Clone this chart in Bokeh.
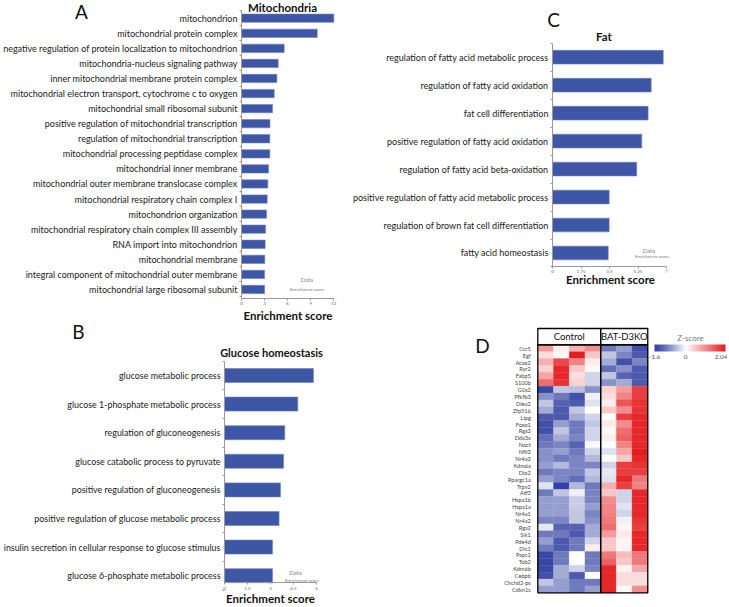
from bokeh.plotting import figure
from bokeh.models import (Range1d, FixedTicker, CustomJSTickFormatter, Label, Legend,
                          LegendItem, LinearColorMapper, ColorBar, ColumnDataSource)
from bokeh.layouts import row, column
from bokeh.transform import transform
from bokeh.embed import file_html
from bokeh.resources import INLINE

FONT = "Lato"
BAR = "#3E56A6"
BAR_LINE = "#6B80C2"

# ---------------- data ----------------
mito_terms = [
    "mitochondrion",
    "mitochondrial protein complex",
    "negative regulation of protein localization to mitochondrion",
    "mitochondria-nucleus signaling pathway",
    "inner mitochondrial membrane protein complex",
    "mitochondrial electron transport, cytochrome c to oxygen",
    "mitochondrial small ribosomal subunit",
    "positive regulation of mitochondrial transcription",
    "regulation of mitochondrial transcription",
    "mitochondrial processing peptidase complex",
    "mitochondrial inner membrane",
    "mitochondrial outer membrane translocase complex",
    "mitochondrial respiratory chain complex I",
    "mitochondrion organization",
    "mitochondrial respiratory chain complex III assembly",
    "RNA import into mitochondrion",
    "mitochondrial membrane",
    "integral component of mitochondrial outer membrane",
    "mitochondrial large ribosomal subunit",
]
mito_scores = [12.0, 9.85, 5.55, 4.77, 4.6, 4.25, 4.03, 3.7, 3.68, 3.68, 3.51, 3.42,
               3.34, 3.25, 3.12, 3.08, 3.03, 3.0, 3.0]
mito_ticks = [0, 3, 6, 9, 12]

gluc_terms = [
    "glucose metabolic process",
    "glucose 1-phosphate metabolic process",
    "regulation of gluconeogenesis",
    "glucose catabolic process to pyruvate",
    "positive regulation of gluconeogenesis",
    "positive regulation of glucose metabolic process",
    "insulin secretion in cellular response to glucose stimulus",
    "glucose 6-phosphate metabolic process",
]
gluc_scores = [5.8, 4.78, 3.93, 3.85, 3.65, 3.56, 3.13, 3.13]
gluc_ticks = [0, 1.5, 3, 4.5, 6]

fat_terms = [
    "regulation of fatty acid metabolic process",
    "regulation of fatty acid oxidation",
    "fat cell differentiation",
    "positive regulation of fatty acid oxidation",
    "regulation of fatty acid beta-oxidation",
    "positive regulation of fatty acid metabolic process",
    "regulation of brown fat cell differentiation",
    "fatty acid homeostasis",
]
fat_scores = [6.8, 6.06, 5.87, 5.48, 5.17, 3.48, 3.48, 3.42]
fat_ticks = [0, 1.75, 3.5, 5.25, 7]

genes = ["Ccr5", "Egf", "Acox2", "Ryr2", "Fabp5", "S100b", "G0s2", "Pfkfb3", "Dleu2",
         "Zfp516", "Lipg", "Foxo1", "Rgs3", "Ddx3x", "Noct", "Nfil3", "Nr4a3", "Kdm6a",
         "Dio2", "Ppargc1a", "Trpv2", "Atf3", "Hspa1b", "Hspa1a", "Nr4a1", "Nr4a2", "Rgs2",
         "Sik1", "Pde4d", "Dlc1", "Pspc1", "Tob2", "Kdm6b", "Cebpb", "Chchd2-ps", "Cdkn1c"]
groups = ["Control", "BAT-D3KO"]
group_sizes = [4, 3]
# z-scores per gene: 4 Control samples, then 3 BAT-D3KO samples
zscores = [
    [0.9, 0.15, 0.7, 1.0, -1.0, -0.7, -1.4],
    [0.3, 0.05, 2.0, 0.5, -0.4, -0.9, -1.3],
    [0.7, 1.6, 1.1, 0.15, -0.6, -1.4, -0.9],
    [0.4, 1.9, 0.5, 0.05, -1.1, -0.8, -1.3],
    [0.8, 1.9, 0.3, -0.3, -0.4, -1.2, -1.3],
    [1.3, 1.8, 0.4, -0.3, -0.8, -0.6, -1.3],
    [-1.5, -0.4, -0.45, -0.8, 0.4, 0.9, 1.7],
    [-0.8, -1.0, -1.4, -0.1, 0.3, 1.1, 1.7],
    [-0.4, -1.2, -1.3, -0.2, 0.15, 1.5, 1.8],
    [-0.6, -1.3, -0.4, 0.0, 0.5, 1.0, 1.8],
    [-1.3, -1.3, -0.6, -0.3, 0.0, 1.7, 1.9],
    [-1.4, -0.7, -1.0, -0.4, 0.2, 1.0, 1.9],
    [-1.4, -0.4, -1.0, -0.3, 0.05, 1.3, 1.9],
    [-1.1, -0.6, -0.9, -0.3, 0.15, 1.4, 1.9],
    [-1.0, -0.9, -1.2, -0.05, 0.0, 1.1, 1.9],
    [-0.8, -0.7, -1.0, -0.3, -0.2, 0.8, 2.0],
    [-0.8, -1.0, -0.9, -0.5, 0.0, 0.5, 1.9],
    [-0.7, -0.5, -0.9, -0.9, -0.3, 1.7, 1.8],
    [-1.0, -0.9, -0.9, -0.4, -0.15, 1.7, 1.7],
    [-0.7, -0.9, -1.1, -0.5, -0.2, 1.9, 1.2],
    [-0.2, -1.6, -0.5, -1.0, 0.7, 1.7, 1.1],
    [-1.0, -0.4, -0.1, -0.9, 0.5, -0.3, 1.9],
    [-0.7, -0.7, -0.35, -0.9, 1.0, -0.3, 1.9],
    [-0.7, -0.7, -0.35, -0.7, 1.1, -0.2, 1.9],
    [-0.7, -0.7, -0.4, -0.9, 1.1, -0.3, 1.9],
    [-0.9, -0.9, -0.4, -0.8, 1.2, -0.1, 1.8],
    [-0.15, -1.2, -1.2, -0.6, 1.3, 0.1, 1.7],
    [-1.0, -1.0, -1.3, -0.6, 0.9, 0.2, 1.9],
    [-0.7, -1.3, -1.0, -0.3, 0.5, 0.1, 1.9],
    [-1.0, -1.3, -1.0, 0.15, 0.5, 0.1, 1.9],
    [-1.5, -1.0, 0.0, -1.0, 1.2, 0.6, 1.2],
    [-1.5, -1.0, 0.0, -1.0, 1.4, 0.5, 1.2],
    [-1.5, -0.6, -0.3, -0.9, 1.9, 0.1, 0.8],
    [-1.4, -0.6, -1.3, 0.0, 1.9, 0.3, 0.3],
    [-0.4, -0.7, -1.0, -1.0, 1.9, 0.3, 0.3],
    [-0.7, -0.7, -1.0, -0.7, 1.9, 0.05, 1.0],
]
z_low, z_high = -1.6, 2.04
z_ticks = [-1.6, 0, 2.04]


# ---------------- helpers ----------------
def base_fig(W, H, xr, yr):
    p = figure(width=W, height=H, x_range=xr, y_range=yr, output_backend="svg",
               toolbar_location=None, tools="", title=None, min_border=0,
               min_border_left=0, min_border_right=0, min_border_top=0, min_border_bottom=0)
    p.outline_line_color = None
    p.xgrid.visible = False
    p.ygrid.visible = False
    p.background_fill_color = "white"
    p.border_fill_color = "white"
    return p


def add_label(p, xy, text, size, bold=False, color="#111", align="center"):
    p.add_layout(Label(x=xy[0], y=xy[1], text=text, text_font=FONT, text_font_size=size,
                       text_font_style="bold" if bold else "normal", text_color=color,
                       text_align=align, text_baseline="middle"))


def bar_panel(terms, scores, ticks, W, H, ox, x_px, y_first, y_step, y_axis_px, bar_h, fsize):
    n = len(terms)

    def to_data(fx, fy):
        return (fx - ox) / x_px, (fy - y_first) / y_step

    x0 = to_data(0, 0)[0]
    x1 = to_data(W, 0)[0]
    ytop = to_data(0, 0)[1]
    ybot = to_data(0, H)[1]
    ybase = to_data(0, y_axis_px)[1]
    p = base_fig(W, H, Range1d(x0, x1), Range1d(ybot, ytop))

    src = ColumnDataSource(dict(y=list(range(n)), score=scores, term=terms))
    p.hbar(y="y", left=0, right="score", height=bar_h, source=src,
           fill_color=BAR, line_color=BAR_LINE, line_width=0.6)

    ya = p.yaxis[0]
    ya.fixed_location = 0
    ya.bounds = (-0.5, ybase)
    ya.ticker = FixedTicker(ticks=list(range(n)), minor_ticks=[i - 0.5 for i in range(n + 1)])
    ya.major_label_overrides = {i: t for i, t in enumerate(terms)}
    ya.major_label_text_font = FONT
    ya.major_label_text_font_size = fsize
    ya.major_label_text_color = "#1a1a1a"
    ya.major_label_standoff = 2
    ya.major_tick_out = 0
    ya.major_tick_in = 0
    ya.minor_tick_out = 2
    ya.minor_tick_in = 0
    ya.minor_tick_line_color = "#999"
    ya.axis_line_color = "#999"

    xa = p.xaxis[0]
    xa.fixed_location = ybase
    xa.bounds = (0, ticks[-1])
    xa.ticker = FixedTicker(ticks=ticks, minor_ticks=[])
    xa.formatter = CustomJSTickFormatter(code="return tick.toString()")
    xa.major_label_text_font = FONT
    xa.major_label_text_font_size = "4.5px"
    xa.major_label_text_color = "#666"
    xa.major_label_standoff = 2
    xa.major_tick_out = 2
    xa.major_tick_in = 0
    xa.major_tick_line_color = "#999"
    xa.axis_line_color = "#999"
    return p, to_data


def add_legend(p, loc, data_xy):
    dummy = p.scatter(x=[], y=[], marker="circle", fill_color=BAR, line_color=BAR)
    leg = Legend(items=[LegendItem(label="Enrichment score", renderers=[dummy])],
                 location=loc, label_text_font=FONT, label_text_font_size="4.5px",
                 label_text_color="#777", glyph_width=4, glyph_height=4, label_height=4,
                 label_standoff=2, padding=0, margin=0, spacing=0,
                 border_line_color=None, background_fill_alpha=0)
    p.add_layout(leg)
    add_label(p, data_xy, "Data", "6px", color="#888")


# ---------------- panel A (fig at page 0,0) ----------------
WA, HA = 345, 321
pA, dA = bar_panel(mito_terms, mito_scores, mito_ticks, WA, HA, 241, 92.3 / 12,
                   17.7, 15.07, 297.7, 0.55, "9px")
add_label(pA, dA(282, 6.5), "Mitochondria", "11.5px", bold=True)
add_label(pA, dA(81, 10.5), "A", "19px")
add_label(pA, dA(287.5, 314.5), "Enrichment score", "11.5px", bold=True)
add_legend(pA, (284, 29.5), dA(306.3, 279.3))

# ---------------- panel B (fig at page 0,321) ----------------
WB, HB = 345, 284
pB, dB = bar_panel(gluc_terms, gluc_scores, gluc_ticks, WB, HB, 224, 92 / 6,
                   54, 28.6, 261, 0.49, "8.9px")
add_label(pB, dB(271, 31), "Glucose homeostasis", "11px", bold=True)
add_label(pB, dB(78, 9.5), "B", "19px")
add_label(pB, dB(270, 276.5), "Enrichment score", "11.5px", bold=True)
add_legend(pB, (279, 22), dB(295, 251.3))

# ---------------- panel C (fig at page 345,0) ----------------
WC, HC = 382, 300
pC, dC = bar_panel(fat_terms, fat_scores, fat_ticks, WC, HC, 207, 114 / 7,
                   56.7, 27.97, 265.7, 0.49, "9px")
add_label(pC, dC(258.5, 36), "Fat", "11.5px", bold=True)
add_label(pC, dC(208, 19), "C", "19px")
add_label(pC, dC(265, 278.5), "Enrichment score", "11.5px", bold=True)
add_legend(pC, (284, 41.5), dC(303.3, 250))

# ---------------- panel D heatmap (fig at page 345,300) ----------------
WD, HD = 382, 305
ng = len(genes)
cell_w, cell_h = 15.71, 6.889
hx0, hy0 = 192.3, 44.3


def dD(fx, fy):
    return (fx - hx0) / cell_w, (fy - hy0) / cell_h - 0.5


hdr_top = dD(0, 28)[1]
pD = base_fig(WD, HD, Range1d(dD(0, 0)[0], dD(WD, 0)[0]), Range1d(dD(0, HD)[1], dD(0, 0)[1]))


def lerp(a, b, t):
    return tuple(int(round(a[i] + (b[i] - a[i]) * t)) for i in range(3))


lowc, midc, highc = (0x33, 0x42, 0xA2), (255, 255, 255), (0xE4, 0x19, 0x1B)
wmid = (0 - z_low) / (z_high - z_low)
palette = []
for k in range(256):
    f = k / 255
    if f <= wmid:
        c = lerp(lowc, midc, (f / wmid) ** 1.25)
    else:
        c = lerp(midc, highc, (f - wmid) / (1 - wmid))
    palette.append("#%02x%02x%02x" % c)
mapper = LinearColorMapper(palette=palette, low=z_low, high=z_high)

xs, ys, vs = [], [], []
for r, rowvals in enumerate(zscores):
    for c, v in enumerate(rowvals):
        xs.append(c + 0.5)
        ys.append(r)
        vs.append(v)
srcD = ColumnDataSource(dict(x=xs, y=ys, z=vs))
pD.rect(x="x", y="y", width=1, height=1, source=srcD,
        fill_color=transform("z", mapper), line_color=transform("z", mapper), line_width=0.3)

lefts, rights, acc = [], [], 0
for sz in group_sizes:
    lefts.append(acc)
    acc += sz
    rights.append(acc)
mids = [(a + b) / 2 for a, b in zip(lefts, rights)]
pD.quad(left=lefts, right=rights, top=[hdr_top] * 2, bottom=[-0.5] * 2,
        fill_color=None, line_color="black", line_width=1.3)
pD.quad(left=lefts, right=rights, top=[-0.5] * 2, bottom=[ng - 0.5] * 2,
        fill_color=None, line_color="black", line_width=1.3)
srcG = ColumnDataSource(dict(x=mids, y=[(hdr_top - 0.5) / 2] * 2, t=groups))
pD.text(x="x", y="y", text="t", source=srcG, text_align="center", text_baseline="middle",
        text_font_size="9.5px", text_color="#111", text_font={"value": FONT})

pD.xaxis.visible = False
ya = pD.yaxis[0]
ya.fixed_location = 0
ya.ticker = FixedTicker(ticks=list(range(ng)), minor_ticks=[])
ya.major_label_overrides = {i: gname for i, gname in enumerate(genes)}
ya.major_label_text_font = FONT
ya.major_label_text_font_size = "5.6px"
ya.major_label_text_color = "#444"
ya.major_label_standoff = 1
ya.major_tick_line_color = None
ya.minor_tick_line_color = None
ya.axis_line_color = None

cb = ColorBar(color_mapper=mapper, orientation="horizontal", width=71, height=7,
              location=(309, 244), ticker=FixedTicker(ticks=z_ticks),
              formatter=CustomJSTickFormatter(code="return tick.toString()"),
              major_label_text_font=FONT, major_label_text_font_size="6.5px",
              major_label_text_color="#555", major_tick_line_color=None,
              bar_line_color=None, border_line_color=None, background_fill_alpha=0,
              padding=0, label_standoff=3)
pD.add_layout(cb)
add_label(pD, dD(345, 37), "Z-score", "8px", color="#777")
add_label(pD, dD(137, 45), "D", "19px")

layout = row(column(pA, pB), column(pC, pD))
open("out.html", "w").write(file_html(layout, INLINE))
